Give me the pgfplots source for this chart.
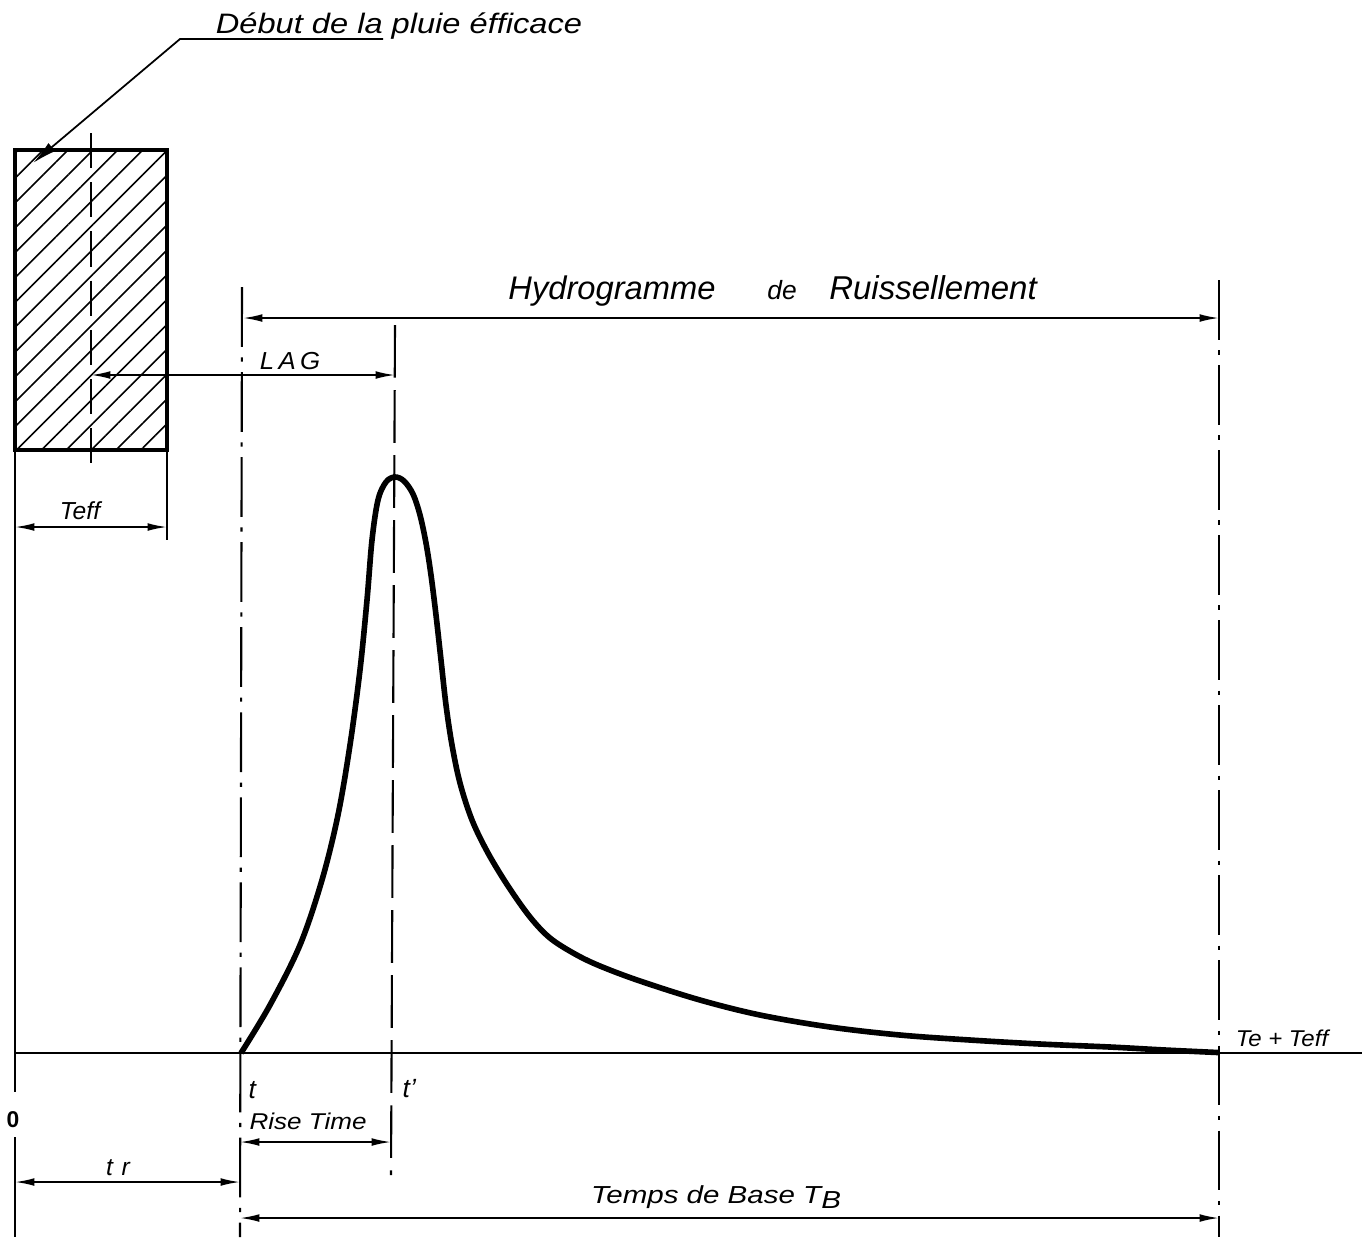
\documentclass[border=0pt]{standalone}
\usepackage{fontspec}
\setmainfont{Liberation Sans}
\usepackage{graphicx}
\usepackage{pgfplots}
\pgfplotsset{compat=1.18}
\usetikzlibrary{arrows.meta,patterns.meta}
\newcommand\fs[1]{\fontsize{#1}{#1}\selectfont\itshape}
\begin{document}
\begin{tikzpicture}
\begin{axis}[name=ax,width=13.68cm,height=12.37cm,scale only axis,
  xmin=0,xmax=1368,ymin=0,ymax=1237,y dir=reverse,hide axis,clip=false,
  >={Latex[length=5.5pt,width=2.2pt]}]
% rainfall block (hatched)
\addplot[black,line width=0.9pt,pattern={Lines[angle=45,distance=5pt,line width=0.45pt]}]
  coordinates {(15,150)(167,150)(167,450)(15,450)} -- cycle;
% centre of rainfall
\addplot[black,line width=0.6pt,dash pattern=on 10pt off 4pt] coordinates {(91,133)(91,470)};
% left axis line with gap at 0
\addplot[black,line width=0.8pt] coordinates {(15,150)(15,1092)};
\addplot[black,line width=0.8pt] coordinates {(15,1137)(15,1237)};
% Teff tick
\addplot[black,line width=0.7pt] coordinates {(167,450)(167,540)};
% baseline
\addplot[black,line width=0.7pt] coordinates {(15,1053)(1362,1053)};
% vertical reference lines
\addplot[black,line width=0.6pt,dash pattern=on 17pt off 3pt on 1.2pt off 3pt] coordinates {(242,287)(240,1237)};
\addplot[black,line width=0.6pt,dash pattern=on 15pt off 3.5pt] coordinates {(395,325)(391,1175)};
\addplot[black,line width=0.6pt,dash pattern=on 17pt off 3pt on 1.2pt off 3pt] coordinates {(1219,280)(1219,1237)};
% dimension arrows
\addplot[black,line width=0.5pt,<->] coordinates {(243,318)(1219,318)};
\addplot[black,line width=0.5pt,<->] coordinates {(91,375)(395,375)};
\addplot[black,line width=0.5pt,<->] coordinates {(15,527)(167,527)};
\addplot[black,line width=0.5pt,<->] coordinates {(240,1142)(391,1142)};
\addplot[black,line width=0.5pt,<->] coordinates {(15,1182)(240,1182)};
\addplot[black,line width=0.5pt,<->] coordinates {(240,1218)(1219,1218)};
% leader
\addplot[black,line width=0.5pt,-{Latex[length=7pt,width=3pt]}] coordinates {(383,39)(180,39)(33,163)};
% runoff hydrograph
\addplot[black,line width=1.6pt,smooth,tension=0.55] coordinates {
(241,1053)(270,1005)(300,945)(322,880)(338,815)(350,745)(360,670)(367,600)
(372,540)(378,500)(386,482)(395,477)(404,481)(413,494)(420,515)(426,543)
(431,575)(436,615)(441,660)(446,705)(452,745)(460,783)(472,820)(488,853)
(508,886)(530,917)(550,938)(575,954)(600,966)(640,981)(700,1000)(760,1015)
(830,1027)(900,1035)(970,1040)(1040,1044)(1110,1047)(1165,1050)(1218,1052.5)};
% labels
\node[anchor=base] at (axis cs:399,33) {\fs{8}\scalebox{1.16}[1]{Début de la pluie éfficace}};
\node[anchor=base] at (axis cs:612,299) {\fs{9.3}Hydrogramme};
\node[anchor=base] at (axis cs:782,299) {\fs{7.5}de};
\node[anchor=base] at (axis cs:933,299) {\fs{9.4}Ruissellement};
\node[anchor=base] at (axis cs:290,369) {\fs{7}\scalebox{1.05}[1]{L\,A\,G}};
\node[anchor=base] at (axis cs:80,519) {\fs{7}Teff};
\node[anchor=base west,inner sep=0pt] at (axis cs:248,1098) {\fs{7.5}t};
\node[anchor=base west,inner sep=0pt] at (axis cs:402,1097) {\fs{7.5}t’};
\node[anchor=base] at (axis cs:308,1129) {\fs{6.5}\scalebox{1.14}[1]{Rise Time}};
\node[anchor=base] at (axis cs:118,1175) {\fs{7}t\hspace{2.5pt}r};
\node[anchor=base] at (axis cs:716,1203) {\fs{7}\scalebox{1.2}[1]{Temps de Base T\raisebox{-1.5pt}{B}}};
\node[anchor=base] at (axis cs:1282,1046) {\fs{6.5}\scalebox{1.05}[1]{Te + Teff}};
\node[anchor=center] at (axis cs:13,1120) {\fontsize{6.5}{6.5}\selectfont\bfseries 0};
\end{axis}
\pgfresetboundingbox
\path (ax.south west) rectangle (ax.north east);
\end{tikzpicture}
\end{document}
